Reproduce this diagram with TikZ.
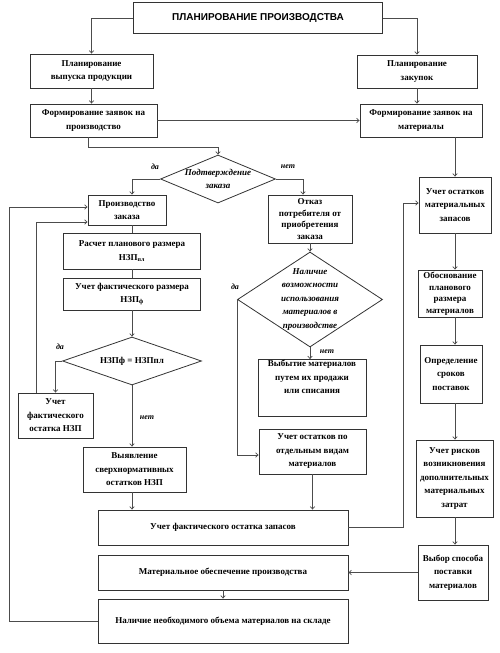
\documentclass[tikz,border=0pt]{standalone}
\usepackage{fontspec}
\setmainfont{Liberation Serif}
\newfontfamily\titlefont{Liberation Sans}
\usetikzlibrary{arrows.meta,shapes.geometric}

\tikzset{
  blk/.style={draw=black!80, line width=0.9pt, rectangle, align=center, inner sep=1pt,
    font=\fontsize{9}{13.5}\selectfont\bfseries},
  tight/.style={font=\fontsize{9}{11.5}\selectfont\bfseries},
  dia/.style={draw=black!80, line width=0.8pt, shape=diamond, inner sep=0pt},
  diatext/.style={align=center, inner sep=0pt, font=\fontsize{9}{13.5}\selectfont\bfseries\itshape},
  arr/.style={draw=black!70, line width=0.7pt, -{Straight Barb[length=2.5pt,width=4.5pt]}},
  ln/.style={draw=black!70, line width=0.7pt},
  yn/.style={font=\fontsize{8}{10}\selectfont\bfseries\itshape, inner sep=1pt}
}

\begin{document}
\begin{tikzpicture}[x=1pt, y=-1pt]
\useasboundingbox (0,0) rectangle (499,653);

% Top block
\node[blk, minimum width=249pt, minimum height=31pt, font=\fontsize{10}{12}\selectfont\titlefont\bfseries] (title) at (258,18) {ПЛАНИРОВАНИЕ ПРОИЗВОДСТВА};

% Planning level
\node[blk, minimum width=123pt, minimum height=34pt] (planout) at (91.5,71) {Планирование\\выпуска продукции};
\node[blk, minimum width=120pt, minimum height=33pt] (planbuy) at (417,71.5) {Планирование\\закупок};
\node[blk, minimum width=127pt, minimum height=33pt] (ordprod) at (93.5,120.5) {Формирование заявок на\\производство};
\node[blk, minimum width=122pt, minimum height=33pt] (ordmat) at (421,120.5) {Формирование заявок на\\материалы};

% Order confirmation
\node[dia, minimum width=115pt, minimum height=48pt] (dconf) at (218,179) {};
\node[diatext] at (dconf) {Подтверждение\\заказа};

% Left column: production
\node[blk, minimum width=78pt, minimum height=30pt] (prodord) at (127,210) {Производство\\заказа};
\node[blk, minimum width=137pt, minimum height=36pt] (calc) at (132,251) {Расчет планового размера\\НЗП\textsubscript{пл}};
\node[blk, minimum width=137pt, minimum height=32pt] (fact) at (132,294) {Учет фактического размера\\НЗП\textsubscript{ф}};
\node[dia, minimum width=139pt, minimum height=48pt] (dnzp) at (132,361) {};
\node[diatext, font=\fontsize{9}{13.5}\selectfont\bfseries] at (dnzp) {НЗПф = НЗПпл};
\node[blk, minimum width=75pt, minimum height=45pt] (restnzp) at (55.5,415.5) {Учет\\фактического\\остатка НЗП};
\node[blk, minimum width=103pt, minimum height=45pt] (overnzp) at (134.5,469.5) {Выявление\\сверхнормативных\\остатков НЗП};

% Middle column: refusal
\node[blk, tight, minimum width=84pt, minimum height=48pt] (refuse) at (310,219) {Отказ\\потребителя от\\приобретения\\заказа};
\node[dia, minimum width=145pt, minimum height=95pt] (dposs) at (310,299.5) {};
\node[diatext] at (dposs) {Наличие\\возможности\\использования\\материалов в\\производстве};
\node[blk, minimum width=108pt, minimum height=56pt] (dispose) at (312,388) {Выбытие материалов\\путем их продажи\\или списания\\[8pt]};
\node[blk, minimum width=107pt, minimum height=45pt] (restkind) at (312.5,451.5) {Учет остатков по\\отдельным видам\\материалов};

% Right column: materials
\node[blk, minimum width=72pt, minimum height=56pt] (restmat) at (455,205) {Учет остатков\\материальных\\запасов};
\node[blk, tight, minimum width=64pt, minimum height=47pt] (justify) at (450,293.5) {Обоснование\\планового\\размера\\материалов};
\node[blk, minimum width=62pt, minimum height=58pt] (terms) at (451,374) {Определение\\сроков\\поставок};
\node[blk, minimum width=77pt, minimum height=77pt] (risks) at (454.5,478.5) {Учет рисков\\возникновения\\дополнительных\\материальных\\затрат};
\node[blk, minimum width=70pt, minimum height=55pt] (choose) at (453,572.5) {Выбор способа\\поставки\\материалов};

% Bottom blocks
\node[blk, minimum width=250pt, minimum height=35pt] (factstock) at (223,527.5) {Учет фактического остатка запасов};
\node[blk, minimum width=250pt, minimum height=35pt] (matsupply) at (223,572.5) {Материальное обеспечение производства};
\node[blk, minimum width=250pt, minimum height=44pt] (avail) at (223,621) {Наличие необходимого объема материалов на складе};

% Connectors
\draw[arr] (title.west) -| (planout.north);
\draw[arr] (title.east) -| (planbuy.north);
\draw[arr] (planout) -- (planout |- ordprod.north);
\draw[arr] (planbuy) -- (planbuy |- ordmat.north);
\draw[arr] (ordprod.east) -- (ordmat.west);
\draw[arr] ([xshift=-5pt]ordprod.south) -- ++(0,10) -| (dconf.north);
\draw[arr] (dconf.west) -| (calc.north |- prodord.north);
\draw[arr] (dconf.east) -| ([xshift=-7pt]refuse.north);
\draw[ln] (calc.north |- prodord.south) -- (calc.north);
\draw[ln] (calc.south) -- (fact.north);
\draw[arr] (fact.south) -- (dnzp.north);
\draw[arr] (dnzp.west) -| (restnzp.north);
\draw[arr] (dnzp.south) -- (dnzp.south |- overnzp.north);
\draw[arr] ([xshift=-19.5pt]restnzp.north) |- ([yshift=-12pt]prodord.west);
\draw[arr] (avail.west) -- ++(-88,0) |- ([yshift=3pt]prodord.west);
\draw[arr] (overnzp.south -| dnzp) -- (dnzp |- factstock.north);
\draw[arr] (refuse.south) -- (dposs.north);
\draw[arr] (dposs.south) -- (dposs.south |- dispose.north);
\draw[arr] (dposs.west) |- ([yshift=-3.5pt]restkind.west);
\draw[arr] (restkind.south) -- (restkind.south |- factstock.north);
\draw[arr] (ordmat.south -| restmat) -- (restmat.north);
\draw[arr] (factstock.east) -- ++(55,0) |- ([yshift=2pt]restmat.west);
\draw[arr] (restmat.south) -- (restmat.south |- justify.north);
\draw[arr] (justify.south -| restmat) -- (restmat |- terms.north);
\draw[arr] (terms.south -| restmat) -- (restmat |- risks.north);
\draw[arr] (risks.south -| restmat) -- (restmat |- choose.north);
\draw[arr] (choose.west) -- (choose.west -| matsupply.east);
\draw[arr] (matsupply.south) -- (avail.north);

% Yes / no labels
\node[yn] (y1) at (155,167) {да};
\node[yn] (n1) at (288,167) {нет};
\node[yn] (y2) at (60,347) {да};
\node[yn] (n2) at (147,418) {нет};
\node[yn] (y3) at (235,287) {да};
\node[yn] (n3) at (327,352) {нет};

\end{tikzpicture}
\end{document}
